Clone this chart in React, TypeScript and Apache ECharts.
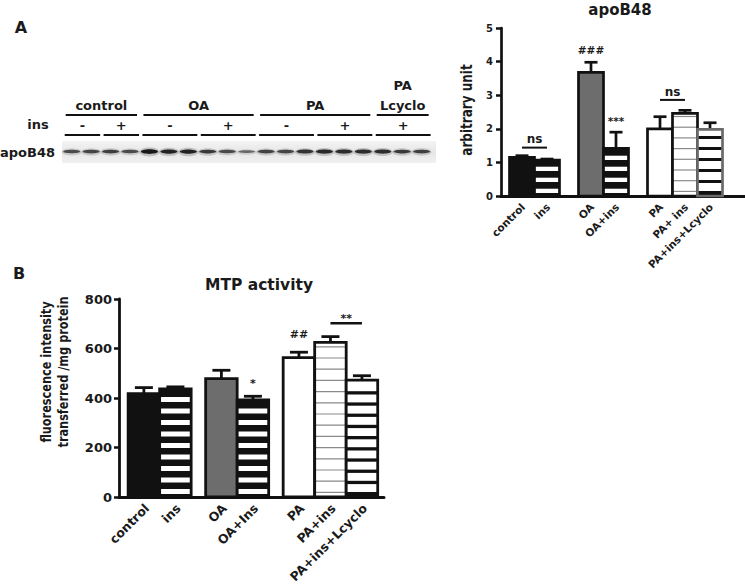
import React, { useEffect, useRef } from 'react';
import * as echarts from 'echarts';

// ---------- data ----------
const CATEGORIES_A = ['control', 'ins', 'OA', 'OA+ins', 'PA', 'PA+ ins', 'PA+ins+Lcyclo'];
const CATEGORIES_B = ['control', 'ins', 'OA', 'OA+Ins', 'PA', 'PA+ins', 'PA+ins+Lcyclo'];
const GROUPS = [0, 0, 1, 1, 2, 2, 2];

const APOB48_MEAN = [1.15, 1.07, 3.68, 1.42, 2.0, 2.46, 1.98];
const APOB48_ERR_TOP = [1.2, 1.1, 3.98, 1.9, 2.36, 2.55, 2.18];

const MTP_MEAN = [418, 437, 478, 392, 563, 625, 472];
const MTP_ERR_TOP = [442, 445, 512, 407, 585, 648, 490];

const Y_A = { min: 0, max: 5, step: 1 };
const Y_B = { min: 0, max: 800, step: 200 };

const ANNOT_A = [
  { text: 'ns', from: 0, to: 1, line: 1.44, level: 1.7 },
  { text: '###', from: 2, to: 2, line: null, level: 4.35 },
  { text: '***', from: 3, to: 3, line: null, level: 2.24 },
  { text: 'ns', from: 4, to: 5, line: 2.86, level: 3.1 },
];
const ANNOT_B = [
  { text: '*', from: 3, to: 3, line: null, level: 457 },
  { text: '##', from: 4, to: 4, line: null, level: 655 },
  { text: '**', from: 5, to: 6, line: 702, level: 723 },
];

const BLOT_GROUPS = ['control', 'OA', 'PA', 'PA\nLcyclo'];
const BLOT_LANES_PER_GROUP = [4, 6, 6, 3];
const BLOT_INS = ['-', '+', '-', '+', '-', '+', '+'];
const BLOT_INS_LANES = [2, 2, 3, 3, 3, 3, 3];
const BLOT_INTENSITY = [0.55, 0.6, 0.65, 0.55, 1.0, 0.9, 0.92, 0.7, 0.55, 0.3, 0.62, 0.6, 0.75, 0.85, 0.8, 0.8, 0.8, 0.7, 0.65];

// ---------- styles / layout ----------
const FONT = '"DejaVu Sans", sans-serif';
const INK = '#1a1a1a';
const PATTERNS = ['solid', 'heavy', 'gray', 'heavy', 'white', 'thin', 'lcyclo'];
const BORDERS_A = ['#111', '#111', '#111', '#111', '#111', '#111', '#6a6a6a'];
const BORDERS_B = ['#111', '#111', '#111', '#111', '#111', '#111', '#111'];
const GAP_A = 0.76;
const GAP_B = 0.46;
const LANE_X0 = 71.7;
const LANE_STEP = 19.44;

function stripes(children: any[], x0: number, x1: number, yt: number, yb: number, period: number, thick: number, offset: number, color: string) {
  for (let yBot = yb - offset; yBot > yt + 1; yBot -= period) {
    const top = Math.max(yt, yBot - thick);
    children.push({ type: 'rect', shape: { x: x0, y: top, width: x1 - x0, height: yBot - top }, style: { fill: color } });
  }
}

function makeBarRenderer(cfg: any) {
  return (params: any, api: any) => {
    const idx = params.dataIndex;
    const pos = api.value(0);
    const mean = api.value(1);
    const errTop = api.value(2);
    const pBL = api.coord([pos - 0.5, 0]);
    const pTR = api.coord([pos + 0.5, mean]);
    const pE = api.coord([pos, errTop]);
    const x0 = pBL[0], x1 = pTR[0], yb = pBL[1], yt = pTR[1], cx = pE[0], ye = pE[1];
    const w = x1 - x0, h = yb - yt;
    const children: any[] = [];
    children.push({ type: 'line', shape: { x1: cx, y1: yt, x2: cx, y2: ye }, style: { stroke: '#111', lineWidth: cfg.lw } });
    children.push({ type: 'line', shape: { x1: cx - cfg.cap / 2, y1: ye, x2: cx + cfg.cap / 2, y2: ye }, style: { stroke: '#111', lineWidth: cfg.lw } });
    const kind = cfg.patterns[idx];
    const base = kind === 'solid' || kind === 'heavy' ? '#111' : kind === 'gray' ? '#6d6d6d' : '#fff';
    children.push({ type: 'rect', shape: { x: x0, y: yt, width: w, height: h }, style: { fill: base } });
    if (kind === 'heavy') {
      stripes(children, x0, x1, yt + 2, yb, cfg.heavy.period, cfg.heavy.thick, cfg.heavy.offset, '#fff');
    } else if (kind === 'thin') {
      stripes(children, x0, x1, yt + 2, yb, cfg.thin.period, cfg.thin.thick, cfg.thin.offset, '#8a8a8a');
    } else if (kind === 'lcyclo') {
      children.push({ type: 'rect', shape: { x: x0, y: yb - cfg.lcyclo.bottom, width: w, height: cfg.lcyclo.bottom }, style: { fill: '#111' } });
      stripes(children, x0, x1, yt + 6, yb, cfg.lcyclo.period, cfg.lcyclo.thick, cfg.lcyclo.bottom + cfg.lcyclo.period - cfg.lcyclo.thick, '#111');
    }
    children.push({ type: 'rect', shape: { x: x0, y: yt, width: w, height: h }, style: { fill: 'none', stroke: cfg.borders[idx], lineWidth: cfg.lw } });
    children.push({
      type: 'text', x: cx + cfg.lx, y: yb + cfg.ly, rotation: Math.PI / 4,
      style: { text: cfg.labels[idx], align: 'right', verticalAlign: 'middle', font: cfg.labelFont, fill: INK },
    });
    return { type: 'group', children };
  };
}

function makeAnnotRenderer(list: any[], cfg: any) {
  return (params: any, api: any) => {
    const a = list[params.dataIndex];
    const pT0 = api.coord([api.value(0), api.value(3)]);
    const pT1 = api.coord([api.value(1), api.value(3)]);
    const cx = (pT0[0] + pT1[0]) / 2;
    const children: any[] = [];
    if (a.line != null) {
      const p0 = api.coord([api.value(0), api.value(2)]);
      const p1 = api.coord([api.value(1), api.value(2)]);
      children.push({ type: 'line', shape: { x1: p0[0], y1: p0[1], x2: p1[0], y2: p1[1] }, style: { stroke: '#111', lineWidth: cfg.lw } });
    }
    const font = a.text === 'ns' ? cfg.nsFont : cfg.symFont;
    children.push({ type: 'text', x: cx, y: pT0[1], style: { text: a.text, align: 'center', verticalAlign: 'middle', font, fill: INK } });
    return { type: 'group', children };
  };
}

function txt(text: string, x: number, y: number, size: number, align = 'center', weight = 'bold', extra: any = {}) {
  return {
    type: 'text', x, y, ...extra,
    style: { text, fill: INK, font: `${weight} ${size}px ${FONT}`, align, verticalAlign: 'middle' },
  };
}
function seg(x1: number, y1: number, x2: number, y2: number, lw = 2) {
  return { type: 'line', shape: { x1, y1, x2, y2 }, style: { stroke: '#111', lineWidth: lw } };
}

function buildGraphic() {
  const els: any[] = [];
  const laneX = (i: number) => LANE_X0 + i * LANE_STEP;
  const vert = { rotation: Math.PI / 2, scaleY: 1.3 };
  els.push(txt('A', 21, 27, 16));
  els.push(txt('B', 19, 273, 16));
  els.push(txt('apoB48', 620, 10, 15));
  els.push(txt('MTP activity', 259, 285, 15.5));
  els.push(txt('arbitrary unit', 466, 110, 12, 'center', 'bold', vert));
  els.push(txt('fluorescence intensity', 46, 372, 11.3, 'center', 'bold', vert));
  els.push(txt('transferred /mg protein', 63, 372, 11.3, 'center', 'bold', vert));

  let lane = 0;
  BLOT_GROUPS.forEach((g, gi) => {
    const n = BLOT_LANES_PER_GROUP[gi];
    const a = laneX(lane) - 6, b = laneX(lane + n - 1) + 7;
    els.push(seg(a, 115, b, 115));
    const parts = g.split('\n');
    parts.forEach((t, k) => els.push(txt(t, (a + b) / 2, 105 - (parts.length - 1 - k) * 20, 13)));
    lane += n;
  });
  lane = 0;
  BLOT_INS.forEach((s, si) => {
    const n = BLOT_INS_LANES[si];
    const a = laneX(lane) - 7, b = laneX(lane + n - 1) + 9;
    els.push(seg(a, 135, b, 135));
    els.push(txt(s, (a + b) / 2, 125, 13));
    lane += n;
  });
  els.push(txt('ins', 38, 124, 13));
  els.push(txt('apoB48', 55, 152, 13, 'right'));

  els.push({
    type: 'rect', shape: { x: 62, y: 141, width: 374, height: 22 },
    style: {
      fill: new echarts.graphic.LinearGradient(0, 0, 0, 1, [
        { offset: 0, color: '#f4f4f4' },
        { offset: 0.5, color: '#e6e6e6' },
        { offset: 1, color: '#f1f1f1' },
      ]),
    },
  });
  BLOT_INTENSITY.forEach((v, i) => {
    const cx = laneX(i);
    els.push({ type: 'ellipse', shape: { cx, cy: 152, rx: 10, ry: 2.2 + 2.2 * v }, style: { fill: `rgba(0,0,0,${0.08 + 0.1 * v})` } });
    els.push({ type: 'ellipse', shape: { cx, cy: 151.6, rx: 8.5, ry: 1.1 + 1.2 * v }, style: { fill: `rgba(15,15,15,${0.35 + 0.6 * v})` } });
  });
  return els;
}

function axisCommon(lw: number) {
  return {
    axisLine: { show: true, onZero: false, lineStyle: { color: '#111', width: lw } },
    splitLine: { show: false },
  };
}

function buildOption() {
  const posA = GROUPS.map((g, i) => i + g * GAP_A);
  const posB = GROUPS.map((g, i) => i + g * GAP_B);
  const dataA = APOB48_MEAN.map((v, i) => [posA[i], v, APOB48_ERR_TOP[i]]);
  const dataB = MTP_MEAN.map((v, i) => [posB[i], v, MTP_ERR_TOP[i]]);
  const annA = ANNOT_A.map((a) => [posA[a.from], posA[a.to], a.line == null ? a.level : a.line, a.level]);
  const annB = ANNOT_B.map((a) => [posB[a.from], posB[a.to], a.line == null ? a.level : a.line, a.level]);

  const cfgA = {
    labels: CATEGORIES_A, patterns: PATTERNS, borders: BORDERS_A, lw: 2.7, cap: 13,
    labelFont: `bold 10.5px ${FONT}`, lx: 1, ly: 9,
    heavy: { period: 11, thick: 4.3, offset: 3 },
    thin: { period: 10.7, thick: 1.2, offset: 4 },
    lcyclo: { period: 11, thick: 3, bottom: 5 },
  };
  const cfgB = {
    labels: CATEGORIES_B, patterns: PATTERNS, borders: BORDERS_B, lw: 2.8, cap: 18,
    labelFont: `bold 12.5px ${FONT}`, lx: 3, ly: 9,
    heavy: { period: 11.5, thick: 5, offset: 3 },
    thin: { period: 11.2, thick: 1.2, offset: 4 },
    lcyclo: { period: 11.2, thick: 3.3, bottom: 5 },
  };

  return {
    animation: false,
    backgroundColor: '#fff',
    grid: [
      { left: 501, top: 28, width: 244, height: 168, outerBoundsMode: 'none' },
      { left: 119, top: 299, width: 265, height: 198, outerBoundsMode: 'none' },
    ],
    xAxis: [
      { type: 'value', gridIndex: 0, min: -0.84, max: 8.92, ...axisCommon(3), axisTick: { show: false }, axisLabel: { show: false } },
      { type: 'value', gridIndex: 1, min: -0.79, max: 7.62, ...axisCommon(3), axisTick: { show: false }, axisLabel: { show: false } },
    ],
    yAxis: [
      {
        type: 'value', gridIndex: 0, min: Y_A.min, max: Y_A.max, interval: Y_A.step, ...axisCommon(2.7),
        axisTick: { show: true, inside: false, length: 5, lineStyle: { color: '#111', width: 2.5 } },
        axisLabel: { fontFamily: FONT, fontWeight: 'bold', fontSize: 10, color: INK, margin: 8 },
      },
      {
        type: 'value', gridIndex: 1, min: Y_B.min, max: Y_B.max, interval: Y_B.step, ...axisCommon(2.8),
        axisTick: { show: true, inside: false, length: 5, lineStyle: { color: '#111', width: 2.5 } },
        axisLabel: { fontFamily: FONT, fontWeight: 'bold', fontSize: 13, color: INK, margin: 7 },
      },
    ],
    series: [
      { type: 'custom', xAxisIndex: 0, yAxisIndex: 0, data: dataA, renderItem: makeBarRenderer(cfgA), clip: false, silent: true, z: 3 },
      { type: 'custom', xAxisIndex: 1, yAxisIndex: 1, data: dataB, renderItem: makeBarRenderer(cfgB), clip: false, silent: true, z: 3 },
      { type: 'custom', xAxisIndex: 0, yAxisIndex: 0, data: annA, renderItem: makeAnnotRenderer(ANNOT_A, { lw: 2, nsFont: `bold 12px ${FONT}`, symFont: `bold 10.5px ${FONT}` }), clip: false, silent: true, z: 4 },
      { type: 'custom', xAxisIndex: 1, yAxisIndex: 1, data: annB, renderItem: makeAnnotRenderer(ANNOT_B, { lw: 2.5, nsFont: `bold 12px ${FONT}`, symFont: `bold 11px ${FONT}` }), clip: false, silent: true, z: 4 },
    ],
    graphic: { elements: buildGraphic() },
  };
}

export default function App() {
  const ref = useRef<HTMLDivElement>(null);
  useEffect(() => {
    const chart = echarts.init(ref.current as HTMLDivElement, null, { renderer: 'svg' });
    chart.setOption(buildOption() as any);
    return () => chart.dispose();
  }, []);
  return <div ref={ref} style={{ position: 'fixed', left: 0, top: 0, width: 745, height: 588, background: '#fff' }} />;
}
